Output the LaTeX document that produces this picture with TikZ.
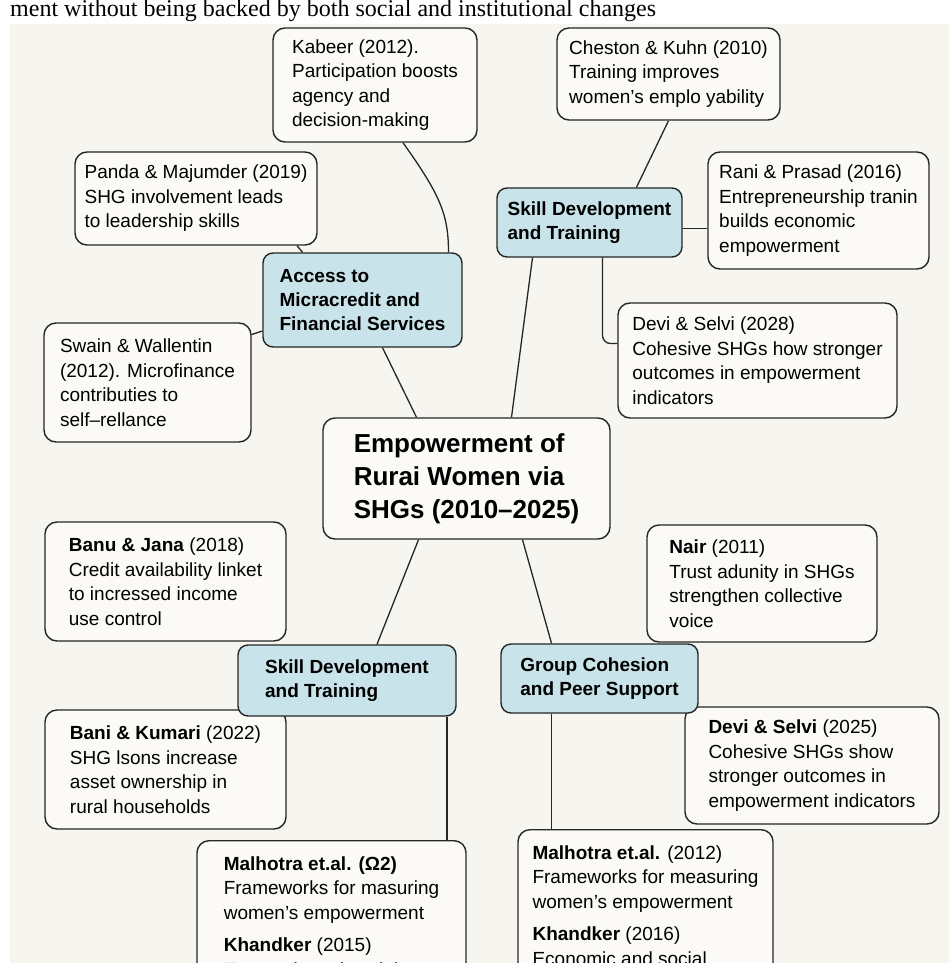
\documentclass[tikz,border=0pt]{standalone}
\usepackage{fontspec}
\usepackage{xcolor}
\usepackage{tikz}
\usetikzlibrary{positioning}
\setmainfont{Liberation Sans}
\newfontfamily\cutserif{Liberation Serif}
\definecolor{paper}{HTML}{F7F5EF}
\definecolor{cardfill}{HTML}{FBFAF6}
\definecolor{hubblue}{HTML}{C8E4EA}
\definecolor{ink}{HTML}{262626}
\tikzset{
  every node/.style={font=\fontsize{19}{24.5}\selectfont},
  source/.style={
    rectangle, rounded corners=12pt,
    draw=ink, fill=cardfill, line width=1.4pt,
    align=left, inner xsep=6pt, inner ysep=4pt
  },
  theme/.style={
    source, fill=hubblue, rounded corners=10pt,
    font=\fontsize{19}{24}\selectfont\bfseries
  },
  core/.style={
    source, font=\fontsize{26}{33}\selectfont\bfseries
  },
  link/.style={draw=ink, line width=1.3pt},
}

\begin{document}
\begin{tikzpicture}[x=1pt, y=-1pt]
  \useasboundingbox (0,0) rectangle (949,963);
  \clip (0,0) rectangle (949,963);
  \fill[white] (0,0) rectangle (949,963);
  \fill[paper] (10,24) rectangle (949,963);
  \node[font=\cutserif\fontsize{24}{28}\selectfont, anchor=base west, inner sep=0pt] (cut) at (10,17) {ment without being backed by both social and institutional changes};

  % upper half
  \node[source, minimum width=204pt, minimum height=114pt] (kabeer) at (375,85) {Kabeer (2012).\\Participation boosts\\agency and\\decision-making};
  \node[source, minimum width=223pt, minimum height=92pt] (cheston) at (668.5,74) {Cheston \& Kuhn (2010)\\Training improves\\women’s emplo yability};
  \node[source, minimum width=242pt, minimum height=93pt] (panda) at (196,198.5) {Panda \& Majumder (2019)\\SHG involvement leads\\to leadership skills};
  \node[theme, minimum width=199pt, minimum height=94pt] (access) at (362.5,300) {Access to\\Micracredit and\\Financial Services};
  \node[source, minimum width=207pt, minimum height=119pt] (swain) at (147.5,382.5) {Swain \& Wallentin\\(2012). Microfinance\\contributies to\\self–rellance};
  \node[theme, minimum width=185pt, minimum height=69pt] (skilltop) at (589.5,222.5) {Skill Development\\and Training};
  \node[source, minimum width=221pt, minimum height=117pt] (rani) at (818.5,210.5) {Rani \& Prasad (2016)\\Entrepreneurship tranin\\builds economic\\empowerment};
  \node[source, minimum width=279pt, minimum height=115pt] (devi) at (757.5,360.5) {Devi \& Selvi (2028)\\Cohesive SHGs how stronger\\outcomes in empowerment\\indicators};
  \node[core, minimum width=287pt, minimum height=121pt] (hub) at (466.5,478.5) {Empowerment of\\Rurai Women via\\SHGs (2010–2025)};

  % lower half
  \node[source, minimum width=241pt, minimum height=119pt] (banu) at (165.5,581.5) {\textbf{Banu \& Jana} (2018)\\Credit availability linket\\to incressed income\\use control};
  \node[source, minimum width=230pt, minimum height=117pt] (nair) at (762,583.5) {\textbf{Nair} (2011)\\Trust adunity in SHGs\\strengthen collective\\voice};
  \node[source, minimum width=241pt, minimum height=119pt] (bani) at (165.5,769.5) {\textbf{Bani \& Kumari} (2022)\\SHG lsons increase\\asset ownership in\\rural households};
  \node[source, minimum width=254pt, minimum height=117pt] (devib) at (812,765.5) {\textbf{Devi \& Selvi} (2025)\\Cohesive SHGs show\\stronger outcomes in\\empowerment indicators};
  \node[theme, minimum width=218pt, minimum height=71pt] (skillbot) at (347,680.5) {Skill Development\\and Training};
  \node[theme, minimum width=197pt, minimum height=69pt] (group) at (599.5,678.5) {Group Cohesion\\and Peer Support};
  \node[source, anchor=north, minimum width=269pt, inner ysep=16pt] (mall) at (331.5,840) {\textbf{Malhotra et.al. (Ω2)}\\Frameworks for masuring\\women’s empowerment\\[8pt]\textbf{Khandker} (2015)\\Economic and social};
  \node[source, anchor=north, minimum width=255pt, inner ysep=16pt] (malr) at (645.5,829) {\textbf{Malhotra et.al.} (2012)\\Frameworks for measuring\\women’s empowerment\\[8pt]\textbf{Khandker} (2016)\\Economic and social};

  % connectors
  \draw[link] ([xshift=28pt]kabeer.south) .. controls +(37,52) and +(0,-38) .. ([xshift=86pt]access.north);
  \draw[link] ([xshift=101pt]panda.south) -- ([xshift=-60pt]access.north);
  \draw[link] ([yshift=48pt]swain.east) -- ([yshift=-31pt]access.west);
  \draw[link] ([xshift=20pt]access.south) -- ([xshift=-50pt]hub.north);
  \draw[link] (cheston.south) -- ([xshift=47pt]skilltop.north);
  \coordinate (ranijoin) at ([yshift=-6pt]skilltop.east);
  \draw[link] (ranijoin) -- (ranijoin -| rani.west);
  \draw[link, rounded corners=8pt] ([xshift=13pt]skilltop.south) |- ([yshift=17pt]devi.west);
  \draw[link] ([xshift=-57pt]skilltop.south) -- ([xshift=45pt]hub.north);
  \draw[link] ([xshift=-48pt]hub.south) -- ([xshift=30pt]skillbot.north);
  \draw[link] ([xshift=56pt]hub.south) -- ([xshift=-48pt]group.north);
  \coordinate (skilldrop) at ([xshift=100pt]skillbot.south);
  \draw[link] (skilldrop) -- (skilldrop |- mall.north);
  \coordinate (groupdrop) at ([xshift=-48pt]group.south);
  \draw[link] (groupdrop) -- (groupdrop |- malr.north);
\end{tikzpicture}
\end{document}
